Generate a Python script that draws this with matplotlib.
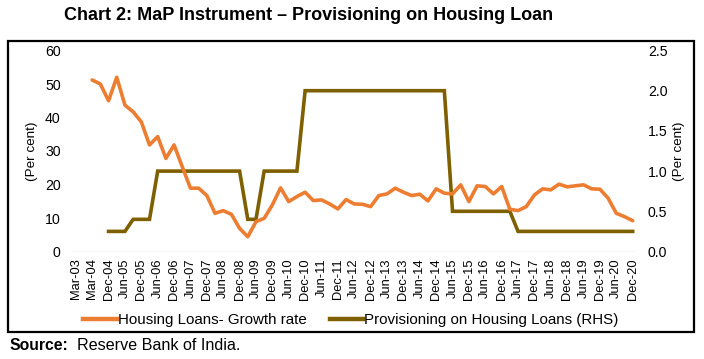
import matplotlib
matplotlib.use("Agg")
import matplotlib.pyplot as plt
from matplotlib.patches import Rectangle
from matplotlib.lines import Line2D

plt.rcParams['font.family'] = ['Liberation Sans', 'DejaVu Sans']

# Categories (quarterly, every other one labelled)
categories = [
    "Mar-03", "Sep-03", "Mar-04", "Sep-04", "Dec-04",
    "Mar-05", "Jun-05", "Sep-05", "Dec-05",
    "Mar-06", "Jun-06", "Sep-06", "Dec-06",
    "Mar-07", "Jun-07", "Sep-07", "Dec-07",
    "Mar-08", "Jun-08", "Sep-08", "Dec-08",
    "Mar-09", "Jun-09", "Sep-09", "Dec-09",
    "Mar-10", "Jun-10", "Sep-10", "Dec-10",
    "Mar-11", "Jun-11", "Sep-11", "Dec-11",
    "Mar-12", "Jun-12", "Sep-12", "Dec-12",
    "Mar-13", "Jun-13", "Sep-13", "Dec-13",
    "Mar-14", "Jun-14", "Sep-14", "Dec-14",
    "Mar-15", "Jun-15", "Sep-15", "Dec-15",
    "Mar-16", "Jun-16", "Sep-16", "Dec-16",
    "Mar-17", "Jun-17", "Sep-17", "Dec-17",
    "Mar-18", "Jun-18", "Sep-18", "Dec-18",
    "Mar-19", "Jun-19", "Sep-19", "Dec-19",
    "Mar-20", "Jun-20", "Sep-20", "Dec-20",
]

# Housing loans growth rate (per cent), None = no data
growth = [
    None, None, 51.2, 50.0, 45.0, 52.0, 43.7, 41.7, 38.7, 31.8,
    34.3, 27.8, 31.8, 25.3, 18.9, 18.9, 16.7, 11.4, 12.2, 11.1,
    6.9, 4.4, 8.9, 9.9, 13.9, 19.0, 14.9, 16.4, 17.7, 15.2,
    15.4, 14.2, 12.7, 15.5, 14.2, 14.1, 13.4, 16.7, 17.2, 18.9,
    17.7, 16.7, 17.1, 15.1, 18.7, 17.4, 17.2, 19.9, 14.9, 19.6,
    19.4, 17.2, 19.4, 12.6, 12.2, 13.4, 16.9, 18.7, 18.4, 20.1,
    19.3, 19.6, 19.9, 18.7, 18.6, 15.9, 11.4, 10.4, 9.2,
]

# Provisioning on housing loans (per cent, RHS)
provisioning = [
    None, None, None, None, 0.25, 0.25, 0.25, 0.4, 0.4, 0.4,
    1.0, 1.0, 1.0, 1.0, 1.0, 1.0, 1.0, 1.0, 1.0, 1.0,
    1.0, 0.4, 0.4, 1.0, 1.0, 1.0, 1.0, 1.0, 2.0, 2.0,
    2.0, 2.0, 2.0, 2.0, 2.0, 2.0, 2.0, 2.0, 2.0, 2.0,
    2.0, 2.0, 2.0, 2.0, 2.0, 2.0, 0.5, 0.5, 0.5, 0.5,
    0.5, 0.5, 0.5, 0.5, 0.25, 0.25, 0.25, 0.25, 0.25, 0.25,
    0.25, 0.25, 0.25, 0.25, 0.25, 0.25, 0.25, 0.25, 0.25,
]

left_ticks = [0, 10, 20, 30, 40, 50, 60]
right_ticks = [0.0, 0.5, 1.0, 1.5, 2.0, 2.5]

orange = "#ED7D31"
olive = "#7F6000"

W, H = 704, 359
fig = plt.figure(figsize=(W / 100, H / 100), dpi=100)

# outer border
fig.patches.append(Rectangle((8 / W, 1 - 332 / H), (694 - 8) / W, (332 - 41) / H,
                             transform=fig.transFigure, fill=False,
                             edgecolor="black", linewidth=1.6, zorder=0))

ax = fig.add_axes([71.7 / W, 1 - 251.5 / H, (636.8 - 71.7) / W, (251.5 - 50.5) / H])
ax2 = ax.twinx()

x = list(range(len(categories)))
gx = [i for i, v in zip(x, growth) if v is not None]
gy = [v for v in growth if v is not None]
px = [i for i, v in zip(x, provisioning) if v is not None]
py = [v for v in provisioning if v is not None]

ax.plot(gx, gy, color=orange, linewidth=2.6, solid_joinstyle="round",
        solid_capstyle="round", zorder=3)
ax2.plot(px, py, color=olive, linewidth=2.6, solid_joinstyle="miter", zorder=2)
ax.set_zorder(ax2.get_zorder() + 1)
ax.patch.set_visible(False)

ax.set_xlim(-0.5, len(categories) - 0.5)
ax.set_ylim(0, 60)
ax2.set_ylim(0, 2.5)
ax.set_yticks(left_ticks)
ax.set_yticklabels([str(t) for t in left_ticks])
ax2.set_yticks(right_ticks)
ax2.set_yticklabels([f"{t:.1f}" for t in right_ticks])

ax.set_xticks(x[::2])
ax.set_xticklabels(categories[::2], rotation=90, fontsize=9.3)

for a in (ax, ax2):
    for s in a.spines.values():
        s.set_visible(False)
    a.tick_params(length=0)
ax.tick_params(axis="y", labelsize=10.2, pad=8)
ax2.tick_params(axis="y", labelsize=10.2, pad=8)
ax.tick_params(axis="x", pad=5)
ax.axhline(0, color="#D9D9D9", linewidth=1.0, zorder=1)

ax.set_ylabel("(Per cent)", fontsize=9.7, labelpad=5)
ax2.set_ylabel("(Per cent)", fontsize=9.7, labelpad=4)

fig.text(64 / W, 1 - 16 / H, "Chart 2: MaP Instrument \u2013 Provisioning on Housing Loan",
         fontsize=13, fontweight="bold", va="center", ha="left")

handles = [Line2D([], [], color=orange, linewidth=3.2),
           Line2D([], [], color=olive, linewidth=3.2)]
fig.legend(handles, ["Housing Loans- Growth rate", "Provisioning on Housing Loans (RHS)"],
           loc="center", bbox_to_anchor=(351 / W, 1 - 320 / H), ncol=2, frameon=False,
           fontsize=10.9, handlelength=2.2, handletextpad=0.1, columnspacing=1.5)

fig.text(10 / W, 1 - 345 / H, "Source:", fontsize=11.3, fontweight="bold", va="center", ha="left")
fig.text(77 / W, 1 - 345 / H, "Reserve Bank of India.", fontsize=11.6, va="center", ha="left")

fig.savefig("out.png", dpi=100)
